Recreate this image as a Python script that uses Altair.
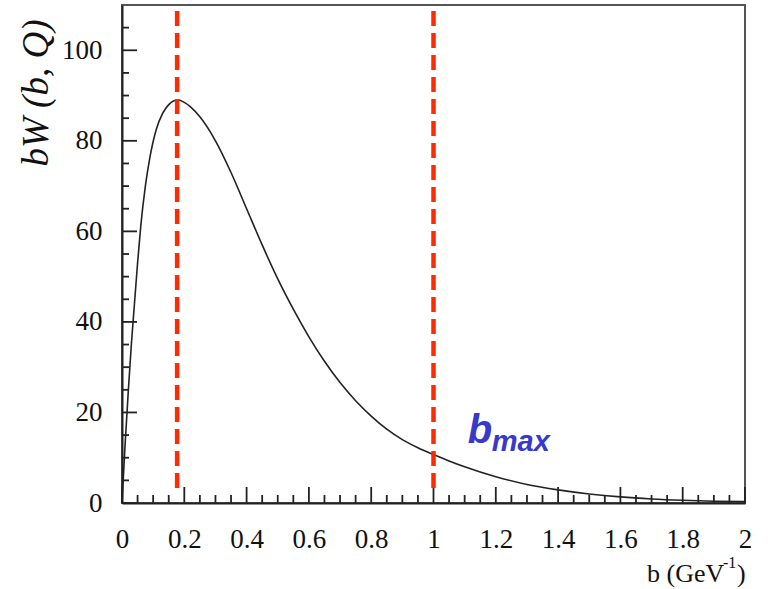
import altair as alt
import pandas as pd

# Curve values
b_vals = [0, 0.01, 0.02, 0.03, 0.04, 0.05, 0.06, 0.075, 0.09, 0.11, 0.13, 0.15, 0.165, 0.18,
          0.2, 0.22, 0.25, 0.3, 0.35, 0.4, 0.45, 0.5, 0.55, 0.6, 0.65, 0.7, 0.75, 0.8, 0.85,
          0.9, 0.95, 1.0, 1.05, 1.1, 1.2, 1.3, 1.4, 1.5, 1.6, 1.7, 1.8, 1.9, 2.0]
w_vals = [0, 13, 24.5, 35, 44, 53, 61, 70, 76.5, 82.5, 86, 88, 88.8, 89,
          88.5, 87.5, 85.3, 80, 73, 65, 57, 49.5, 42.8, 36.7, 31.3, 26.6, 22.6, 19.2, 16.3,
          14.0, 12.2, 10.7, 9.3, 8.0, 5.8, 4.1, 2.9, 2.0, 1.35, 0.9, 0.6, 0.4, 0.3]

# Dashed markers
marker_b = [0.177, 1.0]
marker_top = 108.7
marker_bottom = 1.8

# Axis ticks / labels
x_major = [0, 0.2, 0.4, 0.6, 0.8, 1, 1.2, 1.4, 1.6, 1.8, 2]
x_minor = [round(i * 0.05, 2) for i in range(41) if i % 4 != 0]
y_major = [0, 20, 40, 60, 80, 100]
y_minor = [5, 10, 15, 25, 30, 35, 45, 50, 55, 65, 70, 75, 85, 90, 95, 105]

W, H = 623, 498
SERIF = "Liberation Serif"

xs = alt.Scale(domain=[0, 2], nice=False, zero=False)
ys = alt.Scale(domain=[0, 110], nice=False)

curve_df = pd.DataFrame({"b": b_vals, "w": w_vals})
curve = alt.Chart(curve_df).mark_line(color="#222222", strokeWidth=1.6, interpolate="monotone").encode(
    x=alt.X("b:Q", scale=xs,
            axis=alt.Axis(values=x_major, format="~g", title=None, ticks=False, tickSize=0,
                          grid=False, domainColor="#222222", domainWidth=2,
                          labelFont=SERIF, labelFontSize=27, labelColor="#111111",
                          labelBaseline="alphabetic", labelPadding=44, labelFlush=False)),
    y=alt.Y("w:Q", scale=ys,
            axis=alt.Axis(values=y_major, format="d", title=None, ticks=False, tickSize=0,
                          grid=False, domainColor="#222222", domainWidth=2,
                          labelFont=SERIF, labelFontSize=27, labelColor="#111111",
                          labelPadding=20, labelFlush=False)),
)

xmaj = alt.Chart(pd.DataFrame({"t": x_major})).mark_rule(color="#222222", strokeWidth=1.8).encode(
    x=alt.X("t:Q", scale=xs), y=alt.value(H), y2=alt.value(H - 16))
xmin = alt.Chart(pd.DataFrame({"t": x_minor})).mark_rule(color="#222222", strokeWidth=1.8).encode(
    x=alt.X("t:Q", scale=xs), y=alt.value(H), y2=alt.value(H - 8))
ymaj = alt.Chart(pd.DataFrame({"t": y_major})).mark_rule(color="#222222", strokeWidth=1.8).encode(
    y=alt.Y("t:Q", scale=ys), x=alt.value(0), x2=alt.value(15))
ymin = alt.Chart(pd.DataFrame({"t": y_minor})).mark_rule(color="#222222", strokeWidth=1.8).encode(
    y=alt.Y("t:Q", scale=ys), x=alt.value(0), x2=alt.value(7))

markers_df = pd.DataFrame({"b": marker_b, "top": [marker_top] * 2, "bot": [marker_bottom] * 2})
markers = alt.Chart(markers_df).mark_rule(color="#ff2a00", strokeWidth=4.5, strokeDash=[15, 7]).encode(
    x=alt.X("b:Q", scale=xs), y=alt.Y("top:Q", scale=ys), y2="bot:Q")

one = pd.DataFrame({"k": [0]})
bmax_b = alt.Chart(one).mark_text(text="b", font="Liberation Sans", fontWeight="bold", fontStyle="italic",
                                  fontSize=40, color="#3838cc", align="left", baseline="alphabetic").encode(
    x=alt.datum(1.11), y=alt.datum(13.3))
bmax_sub = alt.Chart(one).mark_text(text="max", font="Liberation Sans", fontWeight="bold", fontStyle="italic",
                                    fontSize=29, color="#3838cc", align="left", baseline="alphabetic",
                                    dx=24).encode(
    x=alt.datum(1.11), y=alt.datum(11.5))

ytitle = alt.Chart(one).mark_text(text="bW (b, Q)", font=SERIF, fontStyle="italic", fontSize=37,
                                  color="#111111", angle=270, align="center", baseline="middle").encode(
    x=alt.value(-85), y=alt.value(88))
xt_main = alt.Chart(one).mark_text(text="b (GeV", font=SERIF, fontSize=26, color="#111111",
                                   align="left", baseline="alphabetic").encode(
    x=alt.value(525), y=alt.value(577))
xt_sup = alt.Chart(one).mark_text(text="-1", font=SERIF, fontSize=16, color="#111111",
                                  align="left", baseline="alphabetic").encode(
    x=alt.value(601), y=alt.value(563))
xt_close = alt.Chart(one).mark_text(text=")", font=SERIF, fontSize=26, color="#111111",
                                    align="left", baseline="alphabetic").encode(
    x=alt.value(615), y=alt.value(577))

chart = alt.layer(
    curve, xmaj, xmin, ymaj, ymin, markers, bmax_b, bmax_sub, ytitle, xt_main, xt_sup, xt_close
).properties(
    width=W, height=H,
    autosize=alt.AutoSizeParams(type="none"),
    padding={"left": 122, "top": 5, "right": 23, "bottom": 86},
    background="white",
).configure_view(stroke="#555555", strokeWidth=2)

chart.save("out.html", embed_options={"renderer": "svg", "actions": False})
